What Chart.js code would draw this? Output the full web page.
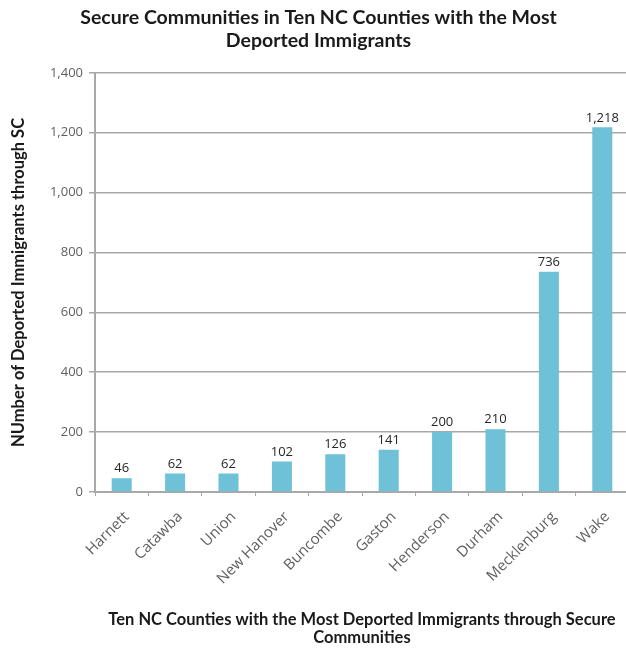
<!DOCTYPE html>
<html lang="en">
<head>
<meta charset="UTF-8">
<title>Secure Communities in Ten NC Counties</title>
<script src="https://cdn.jsdelivr.net/npm/chart.js"></script>
<style>
    html, body { margin: 0; padding: 0; background: #fff; overflow: hidden; }
    #wrap { width: 636px; height: 652px; }
</style>
</head>
<body>
<div id="wrap">
    <canvas id="scChart" width="636" height="652"></canvas>
</div>
<script>
    // counties and number of deported immigrants through Secure Communities
    var counties = ['Harnett', 'Catawba', 'Union', 'New Hanover', 'Buncombe', 'Gaston', 'Henderson', 'Durham', 'Mecklenburg', 'Wake'];
    var deported = [46, 62, 62, 102, 126, 141, 200, 210, 736, 1218];
    var yTicks = [0, 200, 400, 600, 800, 1000, 1200, 1400];

    var titleFont = "Lato, sans-serif";
    var tickFont = "'Open Sans', sans-serif";
    var gridGray = '#a8a8a8';
    var tickGray = '#5f5f5f';

    // value labels above each bar
    var barLabels = {
        id: 'barLabels',
        afterDatasetsDraw: function(chart) {
            var c = chart.ctx;
            var meta = chart.getDatasetMeta(0);
            c.save();
            c.font = '13px ' + tickFont;
            c.fillStyle = '#262626';
            c.textAlign = 'center';
            c.textBaseline = 'bottom';
            meta.data.forEach(function(bar, i) {
                c.fillText(deported[i].toLocaleString('en-US'), bar.x, bar.y - 3);
            });
            c.restore();
        }
    };

    var ctx = document.getElementById('scChart').getContext('2d');
    var chart = new Chart(ctx, {
        type: 'bar',
        data: {
            labels: counties,
            datasets: [{
                data: deported,
                backgroundColor: '#6ec1d6',
                barPercentage: 0.75,
                categoryPercentage: 0.5
            }]
        },
        options: {
            responsive: false,
            animation: false,
            layout: { padding: { left: 8, right: 7, top: 0, bottom: 5 } },
            plugins: {
                legend: { display: false },
                tooltip: { enabled: false },
                title: {
                    display: true,
                    text: ['Secure Communities in Ten NC Counties with the Most', 'Deported Immigrants'],
                    color: '#1a1a1a',
                    font: { family: titleFont, size: 19.5, weight: 'bold', lineHeight: 1.15 },
                    padding: { top: 7, bottom: 21 }
                }
            },
            scales: {
                x: {
                    grid: { drawOnChartArea: false, drawTicks: true, tickLength: 4, color: gridGray, offset: true },
                    border: { color: gridGray, width: 2 },
                    ticks: {
                        color: tickGray,
                        font: { family: tickFont, size: 15 },
                        minRotation: 45,
                        maxRotation: 45,
                        labelOffset: 5,
                        padding: 12
                    },
                    title: {
                        display: true,
                        text: ['Ten NC Counties with the Most Deported Immigrants through Secure', 'Communities'],
                        color: '#1a1a1a',
                        font: { family: titleFont, size: 16.5, weight: 'bold', lineHeight: 1.1 },
                        padding: { top: 0, bottom: 0 }
                    },
                    afterFit: function(scale) { scale.height = 155; }
                },
                y: {
                    min: 0,
                    max: 1400,
                    afterBuildTicks: function(scale) {
                        scale.ticks = yTicks.map(function(v) { return { value: v }; });
                    },
                    grid: { color: gridGray, lineWidth: 1.5, tickLength: 6 },
                    border: { color: gridGray, width: 2 },
                    ticks: {
                        color: tickGray,
                        font: { family: tickFont, size: 13 },
                        padding: 6
                    },
                    title: {
                        display: true,
                        text: 'NUmber of Deported Immigrants through SC',
                        color: '#1a1a1a',
                        font: { family: titleFont, size: 16.5, weight: 'bold', lineHeight: 1.2 },
                        padding: { top: 1, bottom: 2 }
                    },
                    afterFit: function(scale) { scale.width = 87; }
                }
            }
        },
        plugins: [barLabels]
    });
</script>
</body>
</html>
